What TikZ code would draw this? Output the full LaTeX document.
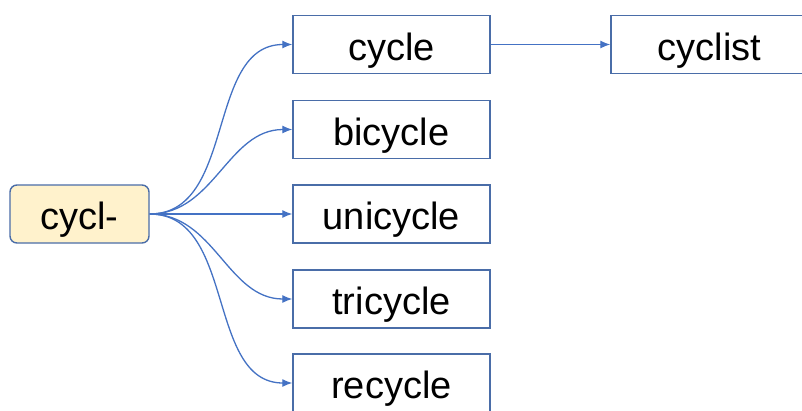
\documentclass[tikz,border=0pt]{standalone}
\usepackage{fontspec}
\setmainfont{Liberation Sans}
\usetikzlibrary{arrows.meta}
\definecolor{edgeblue}{HTML}{4472C4}
\definecolor{boxline}{HTML}{4A6DA8}
\definecolor{rootfill}{HTML}{FFF2CC}
\begin{document}
\begin{tikzpicture}[x=1pt, y=-1pt,
    word/.style={draw=boxline, line width=1.4pt, minimum width=197pt, minimum height=58pt,
        inner sep=0pt, text height=31pt, text depth=0pt, font=\fontsize{38}{40}\selectfont},
    root/.style={word, fill=rootfill, rounded corners=7pt, minimum width=139pt},
    link/.style={draw=edgeblue, line width=1.3pt, -{Latex[length=10pt,width=8pt]}}]
    \useasboundingbox (0, 0) rectangle (802, 410);
    \clip (0, 0) rectangle (802, 410);
    \fill[white] (0, 0) rectangle (802, 410);

    \node[root] (CY) at (79.5, 214) {cycl-};
    \node[word] (C1) at (391.5, 44.5) {cycle};
    \node[word] (C2) at (391.5, 129.5) {bicycle};
    \node[word] (C3) at (391.5, 214) {unicycle};
    \node[word] (C4) at (391.5, 299) {tricycle};
    \node[word] (C5) at (391.5, 383) {recycle};
    \node[word] (CL) at (709.5, 44.5) {cyclist};

    \foreach \w in {C1, C2, C3, C4, C5}
        \draw[link] (CY.east) to[out=0, in=180] (\w.west);
    \draw[link] (C1) -- (CL);
\end{tikzpicture}
\end{document}
